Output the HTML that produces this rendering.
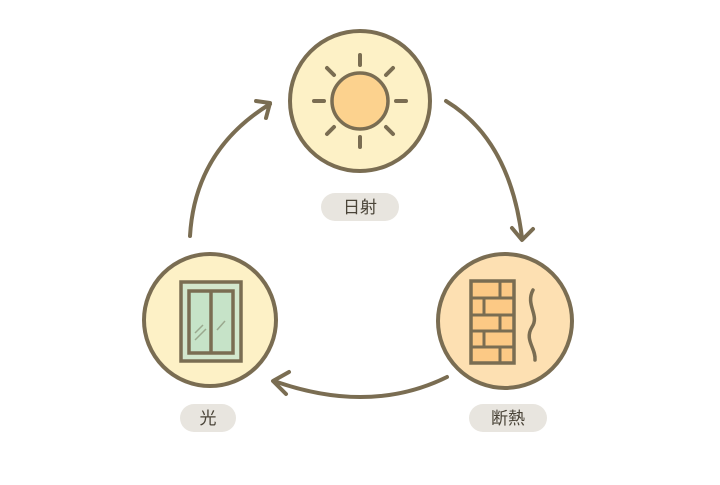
<!DOCTYPE html>
<html><head><meta charset="utf-8"><style>
body{margin:0;background:#fff;}
svg text{font-family:"Liberation Sans","Noto Sans CJK JP",sans-serif;}
</style></head><body>
<svg width="720" height="480" viewBox="0 0 720 480" xmlns="http://www.w3.org/2000/svg">
<g fill="none" stroke="#7a6d52" stroke-width="4" stroke-linecap="round" stroke-linejoin="round">
<path d="M446 101 Q510 140 522 238"/>
<path d="M512 228 L522 240 L533 229"/>
<path d="M447 377 Q370 415 274 381"/>
<path d="M289 372 L273 381 L286 394"/>
<path d="M190 236 Q195 150 270 104"/>
<path d="M256 101 L270 103 L266 118"/>
</g>
<circle cx="360" cy="101" r="70" fill="#fdf1c6" stroke="#7a6d52" stroke-width="4"/>
<g stroke="#7a6d52" stroke-width="4" stroke-linecap="round">
<line x1="360" y1="55" x2="360" y2="65"/><line x1="360" y1="137" x2="360" y2="147"/>
<line x1="314" y1="101" x2="324" y2="101"/><line x1="396" y1="101" x2="406" y2="101"/>
<line x1="327" y1="68" x2="334" y2="75"/><line x1="386" y1="127" x2="393" y2="134"/>
<line x1="393" y1="68" x2="386" y2="75"/><line x1="327" y1="134" x2="334" y2="127"/>
</g>
<circle cx="360" cy="101" r="28" fill="#fcd28e" stroke="#7a6d52" stroke-width="3.5"/>
<rect x="321" y="193" width="78" height="28" rx="14" fill="#e8e5df"/>
<text x="360" y="213" font-size="17" fill="#4a4438" text-anchor="middle">日射</text>

<circle cx="505" cy="321" r="67" fill="#fde0b2" stroke="#7a6d52" stroke-width="4"/>
<rect x="471" y="281" width="43" height="82" fill="#fcc985" stroke="#7a6d52" stroke-width="3.5"/>
<g stroke="#7a6d52" stroke-width="3">
<line x1="471" y1="298" x2="514" y2="298"/><line x1="471" y1="315" x2="514" y2="315"/>
<line x1="471" y1="331" x2="514" y2="331"/><line x1="471" y1="347" x2="514" y2="347"/>
<line x1="500" y1="281" x2="500" y2="298"/><line x1="484" y1="298" x2="484" y2="315"/>
<line x1="500" y1="315" x2="500" y2="331"/><line x1="484" y1="331" x2="484" y2="347"/>
<line x1="500" y1="347" x2="500" y2="363"/>
</g>
<path d="M533 290 C525 305 540 315 532 327 C524 340 536 348 535 360" fill="none" stroke="#7a6d52" stroke-width="3.5" stroke-linecap="round"/>
<rect x="469" y="404" width="78" height="28" rx="14" fill="#e8e5df"/>
<text x="508" y="424" font-size="17" fill="#4a4438" text-anchor="middle">断熱</text>

<circle cx="210" cy="320" r="66" fill="#fdf1c6" stroke="#7a6d52" stroke-width="4"/>
<rect x="181" y="282" width="60" height="79" fill="#d3e7cd" stroke="#7a6d52" stroke-width="3.5"/>
<rect x="189" y="291" width="44" height="62" fill="#c6e3c8" stroke="#7a6d52" stroke-width="3.5"/>
<line x1="211" y1="291" x2="211" y2="353" stroke="#7a6d52" stroke-width="3.5"/>
<g stroke="#9aa88e" stroke-width="1.5"><line x1="195" y1="333" x2="203" y2="325"/><line x1="195" y1="340" x2="206" y2="329"/><line x1="217" y1="330" x2="225" y2="321"/></g>
<rect x="180" y="404" width="56" height="28" rx="14" fill="#e8e5df"/>
<text x="208" y="424" font-size="17" fill="#4a4438" text-anchor="middle">光</text>
</svg>
</body></html>
